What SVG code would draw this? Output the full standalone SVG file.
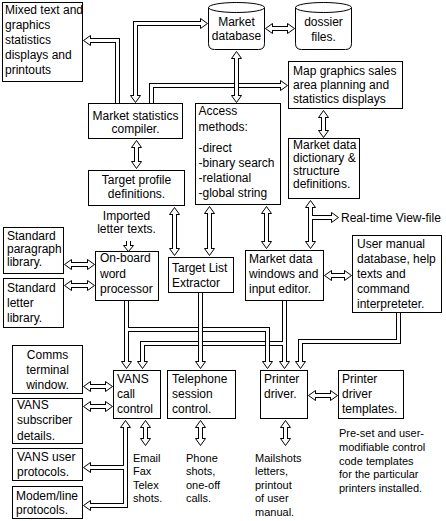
<svg xmlns="http://www.w3.org/2000/svg" width="446" height="521" viewBox="0 0 446 521">
<style>
.box{fill:#fff;stroke:#000;stroke-width:1}
text{font-family:"Liberation Sans",Arial,sans-serif;font-size:12px;fill:#000}
.c{text-anchor:middle}
.s{font-size:11px}
.o{fill:none;stroke:#000;stroke-width:5}
.i{fill:none;stroke:#fff;stroke-width:3}
.h{fill:#fff;stroke:#000;stroke-width:1}
</style>
<rect width="446" height="521" fill="#fff"/>
<g id="connectors">
  <g id="layerA">
    <g class="o">
      <path d="M117.5,106 V40.5 H89.5"/>
      <path d="M135.5,96.5 V23.5 H201.5"/>
      <path d="M151.5,106 V85.5 H281.5"/>
      <path d="M271.5,28.5 H288.5"/>
      <path d="M323.5,116.5 V131.5"/>
      <path d="M136.5,146.5 V162.5"/>
      <path d="M174.5,213.5 V249.5"/>
      <path d="M209.5,212.5 V249.5"/>
      <path d="M266.5,212.5 V242.5"/>
      <path d="M310.5,206.5 V242.5 M310.5,217.5 H332.5"/>
      <path d="M128.5,241 V246.5"/>
      <path d="M70.5,264.5 H88.5"/>
      <path d="M70.5,285.5 H88.5"/>
      <path d="M330.5,275.5 H345.5"/>
      <path d="M398.5,311 V341.5 H300.5 V362.5"/>
      <path d="M284.5,298 V362.5"/>
      <path d="M284.5,343.5 H142.5 V362.5"/>
      <path d="M89.5,386.5 H106.5"/>
      <path d="M89.5,406.5 H106.5"/>
      <path d="M314.5,395.5 H331.5"/>
      <path d="M145.5,426.5 V439.5"/>
      <path d="M200.5,426.5 V439.5"/>
      <path d="M285.5,426.5 V439.5"/>
      <path d="M125.5,426.5 V505.5 H89.5 M125.5,467.5 H89.5"/>
    </g>
    <g class="h">
      <polygon points="90.5,35.5 90.5,45.5 83.5,40.5"/>
      <polygon points="130.5,95.5 140.5,95.5 135.5,102.5"/>
      <polygon points="200.5,18.5 200.5,28.5 207.5,23.5"/>
      <polygon points="280.5,80.5 280.5,90.5 287.5,85.5"/>
      <polygon points="272.5,23.5 272.5,33.5 265.5,28.5"/>
      <polygon points="287.5,23.5 287.5,33.5 294.5,28.5"/>
      <polygon points="318.5,117.5 328.5,117.5 323.5,110.5"/>
      <polygon points="318.5,130.5 328.5,130.5 323.5,137.5"/>
      <polygon points="131.5,147.5 141.5,147.5 136.5,140.5"/>
      <polygon points="131.5,161.5 141.5,161.5 136.5,168.5"/>
      <polygon points="169.5,214.5 179.5,214.5 174.5,207.5"/>
      <polygon points="169.5,248.5 179.5,248.5 174.5,255.5"/>
      <polygon points="204.5,213.5 214.5,213.5 209.5,206.5"/>
      <polygon points="204.5,248.5 214.5,248.5 209.5,255.5"/>
      <polygon points="261.5,213.5 271.5,213.5 266.5,206.5"/>
      <polygon points="261.5,241.5 271.5,241.5 266.5,248.5"/>
      <polygon points="305.5,207.5 315.5,207.5 310.5,200.5"/>
      <polygon points="305.5,241.5 315.5,241.5 310.5,248.5"/>
      <polygon points="331.5,212.5 331.5,222.5 338.5,217.5"/>
      <polygon points="123.5,245.5 133.5,245.5 128.5,251.5"/>
      <polygon points="71.5,259.5 71.5,269.5 64.5,264.5"/>
      <polygon points="87.5,259.5 87.5,269.5 94.5,264.5"/>
      <polygon points="71.5,280.5 71.5,290.5 64.5,285.5"/>
      <polygon points="87.5,280.5 87.5,290.5 94.5,285.5"/>
      <polygon points="331.5,270.5 331.5,280.5 324.5,275.5"/>
      <polygon points="344.5,270.5 344.5,280.5 351.5,275.5"/>
      <polygon points="295.5,361.5 305.5,361.5 300.5,368.5"/>
      <polygon points="279.5,361.5 289.5,361.5 284.5,368.5"/>
      <polygon points="137.5,361.5 147.5,361.5 142.5,368.5"/>
      <polygon points="90.5,381.5 90.5,391.5 83.5,386.5"/>
      <polygon points="105.5,381.5 105.5,391.5 112.5,386.5"/>
      <polygon points="90.5,401.5 90.5,411.5 83.5,406.5"/>
      <polygon points="105.5,401.5 105.5,411.5 112.5,406.5"/>
      <polygon points="315.5,390.5 315.5,400.5 308.5,395.5"/>
      <polygon points="330.5,390.5 330.5,400.5 337.5,395.5"/>
      <polygon points="140.5,427.5 150.5,427.5 145.5,420.5"/>
      <polygon points="140.5,438.5 150.5,438.5 145.5,445.5"/>
      <polygon points="195.5,427.5 205.5,427.5 200.5,420.5"/>
      <polygon points="195.5,438.5 205.5,438.5 200.5,445.5"/>
      <polygon points="280.5,427.5 290.5,427.5 285.5,420.5"/>
      <polygon points="280.5,438.5 290.5,438.5 285.5,445.5"/>
      <polygon points="120.5,427.5 130.5,427.5 125.5,420.5"/>
      <polygon points="90.5,462.5 90.5,472.5 83.5,467.5"/>
      <polygon points="90.5,500.5 90.5,510.5 83.5,505.5"/>
    </g>
    <g class="i">
      <path d="M117.5,106 V40.5 H89.5"/>
      <path d="M135.5,96.5 V23.5 H201.5"/>
      <path d="M151.5,106 V85.5 H281.5"/>
      <path d="M271.5,28.5 H288.5"/>
      <path d="M323.5,116.5 V131.5"/>
      <path d="M136.5,146.5 V162.5"/>
      <path d="M174.5,213.5 V249.5"/>
      <path d="M209.5,212.5 V249.5"/>
      <path d="M266.5,212.5 V242.5"/>
      <path d="M310.5,206.5 V242.5 M310.5,217.5 H332.5"/>
      <path d="M128.5,241 V246.5"/>
      <path d="M70.5,264.5 H88.5"/>
      <path d="M70.5,285.5 H88.5"/>
      <path d="M330.5,275.5 H345.5"/>
      <path d="M398.5,311 V341.5 H300.5 V362.5"/>
      <path d="M284.5,298 V362.5"/>
      <path d="M284.5,343.5 H142.5 V362.5"/>
      <path d="M89.5,386.5 H106.5"/>
      <path d="M89.5,406.5 H106.5"/>
      <path d="M314.5,395.5 H331.5"/>
      <path d="M145.5,426.5 V439.5"/>
      <path d="M200.5,426.5 V439.5"/>
      <path d="M285.5,426.5 V439.5"/>
      <path d="M125.5,426.5 V505.5 H89.5 M125.5,467.5 H89.5"/>
    </g>
  </g>
  <g id="layerB">
    <g class="o">
      <path d="M126.5,298 V362.5 M126.5,329.5 H267.5 V362.5"/>
      <path d="M236.5,57.5 V96.5"/>
    </g>
    <g class="h">
      <polygon points="121.5,361.5 131.5,361.5 126.5,368.5"/>
      <polygon points="262.5,361.5 272.5,361.5 267.5,368.5"/>
      <polygon points="231.5,58.5 241.5,58.5 236.5,51.5"/>
      <polygon points="231.5,95.5 241.5,95.5 236.5,102.5"/>
    </g>
    <g class="i">
      <path d="M126.5,298 V362.5 M126.5,329.5 H267.5 V362.5"/>
      <path d="M236.5,57.5 V96.5"/>
    </g>
  </g>
  <g id="layerC">
    <path class="o" d="M200.5,290 V362.5"/>
    <polygon class="h" points="195.5,361.5 205.5,361.5 200.5,368.5"/>
    <path class="i" d="M200.5,290 V362.5"/>
  </g>
</g>
<g id="n-mixed">
  <rect class="box" x="2.5" y="2.5" width="80" height="79"/>
  <text x="5" y="14">Mixed text and</text>
  <text x="5" y="29">graphics</text>
  <text x="5" y="44">statistics</text>
  <text x="5" y="59">displays and</text>
  <text x="5" y="74">printouts</text>
</g>
<g id="n-database">
  <path class="box" d="M208.5,7.5 V43.5 Q208.5,49.5 214.5,49.5 H258.5 Q264.5,49.5 264.5,43.5 V7.5"/>
  <ellipse class="box" cx="236.5" cy="7.5" rx="28" ry="5"/>
  <text class="c" x="236.5" y="26">Market</text>
  <text class="c" x="236.5" y="40">database</text>
</g>
<g id="n-dossier">
  <path class="box" d="M295.5,7.5 V43.5 Q295.5,49.5 301.5,49.5 H345.5 Q351.5,49.5 351.5,43.5 V7.5"/>
  <ellipse class="box" cx="323.5" cy="7.5" rx="28" ry="5"/>
  <text class="c" x="323.5" y="26">dossier</text>
  <text class="c" x="323.5" y="41">files.</text>
</g>
<g id="n-compiler">
  <rect class="box" x="88.5" y="103.5" width="94" height="35"/>
  <text class="c" x="135.5" y="120">Market statistics</text>
  <text class="c" x="135.5" y="133">compiler.</text>
</g>
<g id="n-access">
  <rect class="box" x="195.5" y="103.5" width="85" height="101"/>
  <text x="198.5" y="115">Access</text>
  <text x="198.5" y="131">methods:</text>
  <text x="198.5" y="152">-direct</text>
  <text x="198.5" y="167">-binary search</text>
  <text x="198.5" y="182">-relational</text>
  <text x="198.5" y="197">-global string</text>
</g>
<g id="n-map">
  <rect class="box" x="288.5" y="61.5" width="114" height="47"/>
  <text x="293" y="75">Map graphics sales</text>
  <text x="293" y="89">area planning and</text>
  <text x="293" y="103">statistics displays</text>
</g>
<g id="n-dictionary">
  <rect class="box" x="288.5" y="138.5" width="71" height="60"/>
  <text x="293" y="149">Market data</text>
  <text x="293" y="162">dictionary &amp;</text>
  <text x="293" y="175">structure</text>
  <text x="293" y="188">definitions.</text>
</g>
<g id="n-target">
  <rect class="box" x="88.5" y="170.5" width="96" height="35"/>
  <text class="c" x="136.5" y="184">Target profile</text>
  <text class="c" x="136.5" y="198">definitions.</text>
</g>
<g id="n-imported">
  <text class="c" x="126.5" y="220">Imported</text>
  <text class="c" x="126.5" y="233">letter texts.</text>
</g>
<g id="n-realtime">
  <text x="341" y="222">Real-time View-file</text>
</g>
<g id="n-paralib">
  <rect class="box" x="3.5" y="227.5" width="60" height="46"/>
  <text x="7" y="240">Standard</text>
  <text x="7" y="253">paragraph</text>
  <text x="7" y="266">library.</text>
</g>
<g id="n-letterlib">
  <rect class="box" x="3.5" y="278.5" width="60" height="49"/>
  <text x="7" y="292">Standard</text>
  <text x="7" y="307">letter</text>
  <text x="7" y="322">library.</text>
</g>
<g id="n-wordproc">
  <rect class="box" x="95.5" y="251.5" width="63" height="49"/>
  <text x="100" y="262">On-board</text>
  <text x="100" y="278">word</text>
  <text x="100" y="293">processor</text>
</g>
<g id="n-extractor">
  <rect class="box" x="168.5" y="257.5" width="65" height="35"/>
  <text x="172" y="272">Target List</text>
  <text x="172" y="287">Extractor</text>
</g>
<g id="n-mdwindows">
  <rect class="box" x="245.5" y="250.5" width="78" height="50"/>
  <text x="249" y="263">Market data</text>
  <text x="249" y="278">windows and</text>
  <text x="249" y="293">input editor.</text>
</g>
<g id="n-usermanual">
  <rect class="box" x="352.5" y="235.5" width="89" height="77"/>
  <text x="357" y="248">User manual</text>
  <text x="357" y="263">database, help</text>
  <text x="357" y="278">texts and</text>
  <text x="357" y="293">command</text>
  <text x="357" y="308">interpreteter.</text>
</g>
<g id="n-comms">
  <rect class="box" x="12.5" y="345.5" width="70" height="48"/>
  <text class="c" x="47.5" y="359">Comms</text>
  <text class="c" x="47.5" y="374">terminal</text>
  <text class="c" x="47.5" y="389">window.</text>
</g>
<g id="n-vanscall">
  <rect class="box" x="113.5" y="370.5" width="47" height="48"/>
  <text x="117" y="383">VANS</text>
  <text x="117" y="398">call</text>
  <text x="117" y="413">control</text>
</g>
<g id="n-telephone">
  <rect class="box" x="167.5" y="370.5" width="68" height="48"/>
  <text x="172" y="383">Telephone</text>
  <text x="172" y="398">session</text>
  <text x="172" y="413">control.</text>
</g>
<g id="n-printer">
  <rect class="box" x="260.5" y="370.5" width="47" height="48"/>
  <text x="264" y="383">Printer</text>
  <text x="264" y="398">driver.</text>
</g>
<g id="n-templates">
  <rect class="box" x="338.5" y="370.5" width="65" height="48"/>
  <text x="342" y="383">Printer</text>
  <text x="342" y="398">driver</text>
  <text x="342" y="413">templates.</text>
</g>
<g id="n-vanssub">
  <rect class="box" x="12.5" y="398.5" width="70" height="45"/>
  <text x="17" y="409">VANS</text>
  <text x="17" y="424">subscriber</text>
  <text x="17" y="440">details.</text>
</g>
<g id="n-vansuser">
  <rect class="box" x="12.5" y="448.5" width="70" height="32"/>
  <text x="17" y="461">VANS user</text>
  <text x="17" y="476">protocols.</text>
</g>
<g id="n-modem">
  <rect class="box" x="12.5" y="486.5" width="70" height="32"/>
  <text x="16" y="500">Modem/line</text>
  <text x="16" y="514">protocols.</text>
</g>
<g id="n-email">
  <text class="s" x="133" y="462">Email</text>
  <text class="s" x="133" y="475">Fax</text>
  <text class="s" x="133" y="489">Telex</text>
  <text class="s" x="133" y="502">shots.</text>
</g>
<g id="n-phone">
  <text class="s" x="186" y="462">Phone</text>
  <text class="s" x="186" y="475">shots,</text>
  <text class="s" x="186" y="489">one-off</text>
  <text class="s" x="186" y="502">calls.</text>
</g>
<g id="n-mailshots">
  <text class="s" x="255" y="462">Mailshots</text>
  <text class="s" x="255" y="475">letters,</text>
  <text class="s" x="255" y="489">printout</text>
  <text class="s" x="255" y="502">of user</text>
  <text class="s" x="255" y="516">manual.</text>
</g>
<g id="n-preset">
  <text class="s" x="339" y="437">Pre-set and user-</text>
  <text class="s" x="339" y="451">modifiable control</text>
  <text class="s" x="339" y="465">code templates</text>
  <text class="s" x="339" y="478">for the particular</text>
  <text class="s" x="339" y="492">printers installed.</text>
</g>
</svg>
